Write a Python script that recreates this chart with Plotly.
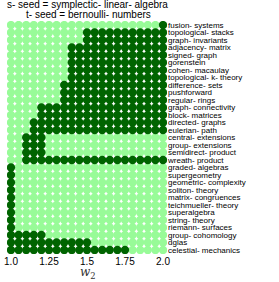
import plotly.graph_objects as go

w2 = [1.0, 1.05, 1.1, 1.15, 1.2, 1.25, 1.3, 1.35, 1.4, 1.45, 1.5,
      1.55, 1.6, 1.65, 1.7, 1.75, 1.8, 1.85, 1.9, 1.95, 2.0]

topics = [
    "fusion- systems", "topological- stacks", "graph- invariants", "adjacency- matrix",
    "signed- graph", "gorenstein", "cohen- macaulay", "topological- k- theory",
    "difference- sets", "pushforward", "regular- rings", "graph- connectivity",
    "block- matrices", "directed- graphs", "eulerian- path", "central- extensions",
    "group- extensions", "semidirect- product", "wreath- product", "graded- algebras",
    "supergeometry", "geometric- complexity", "soliton- theory", "matrix- congruences",
    "teichmueller- theory", "superalgebra", "string- theory", "riemann- surfaces",
    "group- cohomology", "dglas", "celestial- mechanics",
]

# 1 = dark, 0 = light, one char per w2 value
winner = [
    "000000000000000000001",
    "000000000011111111111",
    "000000000011111111111",
    "000000001111111111111",
    "000000001111111111111",
    "000000001111111111111",
    "000000001111111111111",
    "000000001111111111111",
    "000000011111111111111",
    "000000011111111111111",
    "000000011111111111111",
    "000011111111111111111",
    "000011111111111111111",
    "000111111111111111111",
    "000111111111111111111",
    "001110000000000000000",
    "001110000000000000000",
    "001110000000000000000",
    "001111111111111111111",
    "100000000000000000000",
    "100000000000000000000",
    "100000000000000000000",
    "100000000000000000000",
    "100000000000000000000",
    "100000000000000000000",
    "100000000000000000000",
    "100000000000000000000",
    "100000000000000000000",
    "111110000000000000000",
    "111111111110000000000",
    "111111111111111100000",
]

title_lines = ["s- seed = symplectic- linear- algebra", "t- seed = bernoulli- numbers"]
xticks = [1.0, 1.25, 1.5, 1.75, 2.0]
xticktext = ["1.0", "1.25", "1.5", "1.75", "2.0"]

LIGHT = "#98fb98"
DARK = "#006400"
FONT = "Liberation Sans, Arial, sans-serif"

lx, ly, dx, dy = [], [], [], []
for i, row in enumerate(winner):
    for j, ch in enumerate(row):
        if ch == "1":
            dx.append(w2[j]); dy.append(i)
        else:
            lx.append(w2[j]); ly.append(i)

fig = go.Figure()
fig.add_trace(go.Scatter(x=lx, y=ly, mode="markers",
                         marker=dict(color=LIGHT, size=8.3, line=dict(width=0)),
                         showlegend=False, hoverinfo="skip"))
fig.add_trace(go.Scatter(x=dx, y=dy, mode="markers",
                         marker=dict(color=DARK, size=8.3, line=dict(width=0)),
                         showlegend=False, hoverinfo="skip"))

L, T, PW, PH = 7, 21, 160, 233
x0 = 1.0 - 4 / 152
fig.update_layout(
    width=279, height=282,
    margin=dict(l=L, r=279 - L - PW, t=T, b=282 - T - PH, pad=0, autoexpand=False),
    paper_bgcolor="white", plot_bgcolor="white",
    font=dict(family=FONT, color="black"),
    xaxis=dict(range=[x0, x0 + PW / 152], tickvals=xticks, ticktext=xticktext,
               showgrid=False, zeroline=False, showline=False, ticks="", automargin=False,
               tickfont=dict(size=10, family=FONT)),
    yaxis=dict(range=[-4 / 7.5 + PH / 7.5, -4 / 7.5], tickvals=list(range(len(topics))),
               ticktext=topics, side="right", showgrid=False, zeroline=False, automargin=False,
               showline=False, ticks="", tickfont=dict(size=8, family=FONT)),
)

def px_to_paper_y(py):
    return 1 - (py - T) / PH

def px_to_x(px):
    return x0 + (px - L) / 152

fig.add_annotation(text=title_lines[0], x=px_to_x(87), y=px_to_paper_y(5), xref="x", yref="paper",
                   showarrow=False, font=dict(size=10, family=FONT), yanchor="middle")
fig.add_annotation(text=title_lines[1], x=px_to_x(88), y=px_to_paper_y(15), xref="x", yref="paper",
                   showarrow=False, font=dict(size=10, family=FONT), yanchor="middle")
fig.add_annotation(text="<i>w</i><sub>2</sub>", x=px_to_x(88), y=px_to_paper_y(273), xref="x", yref="paper",
                   showarrow=False, font=dict(size=12, family="DejaVu Serif, serif", color="#333"),
                   yanchor="middle")

fig.write_html("out.html", config={"displayModeBar": False, "staticPlot": True},
               post_script="document.body.style.margin='0';document.body.style.overflow='hidden';")
